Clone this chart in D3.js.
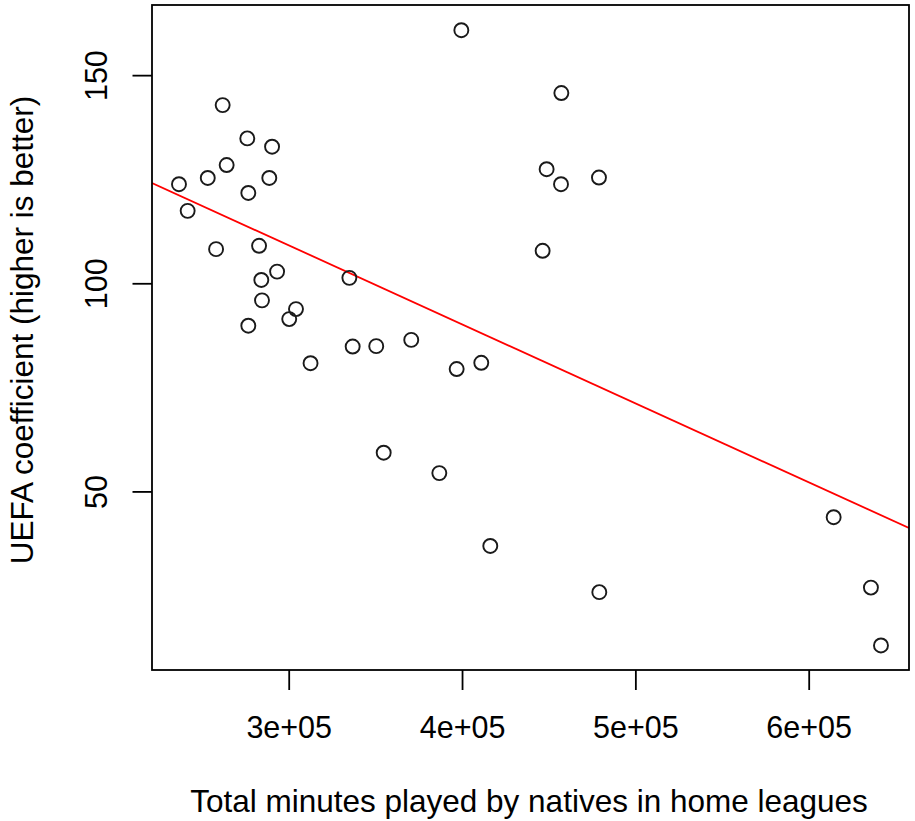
<!DOCTYPE html>
<html>
<head>
<meta charset="utf-8">
<script src="https://cdn.jsdelivr.net/npm/d3@7"></script>
<style>
  html, body { margin: 0; padding: 0; background: #fff; }
  svg { display: block; }
  text { font-family: "Liberation Sans", Arial, Helvetica, sans-serif; fill: #000; }
</style>
</head>
<body>
<svg id="chart" width="915" height="821"></svg>
<script>
// ---- data ----
const minutesPlayed = [236700, 241700, 253300, 258100, 261900, 264200, 276100, 276700, 276700, 282900,
  284200, 284600, 288800, 290400, 293300, 300300, 304200, 312600, 335000, 336900,
  350500, 354800, 370700, 386900, 396900, 399600, 411100, 416300, 446500, 448800,
  457300, 457100, 479000, 479200, 614400, 635900, 641700];
const uefaCoefficient = [123.8, 117.4, 125.3, 108.2, 142.8, 128.4, 134.8, 121.7, 89.8, 109.0,
  100.8, 95.9, 125.3, 132.8, 102.8, 91.4, 93.8, 80.8, 101.3, 84.8,
  84.9, 59.3, 86.4, 54.4, 79.4, 160.8, 80.9, 36.9, 107.8, 127.4,
  145.7, 123.8, 125.4, 25.8, 43.8, 26.9, 13.0];
const xTickValues = [300000, 400000, 500000, 600000];
const xTickLabels = ["3e+05", "4e+05", "5e+05", "6e+05"];
const yTickValues = [50, 100, 150];
const yTickLabels = ["50", "100", "150"];
const xDomain = [221130, 657870];
const yDomain = [7.1, 166.85];
const fitCoefficients = [166.05, -1.8975e-4]; // intercept, slope of fitted line
const xTitle = "Total minutes played by natives in home leagues";
const yTitle = "UEFA coefficient (higher is better)";

// ---- layout ----
const plot = { left: 152, right: 909, top: 5, bottom: 670 };
const fontSize = 30.5;
const titleSize = 31.5;

const svg = d3.select("#chart");
const x = d3.scaleLinear().domain(xDomain).range([plot.left, plot.right]);
const y = d3.scaleLinear().domain(yDomain).range([plot.bottom, plot.top]);

// fitted regression line (clipped to the plot box)
svg.append("clipPath").attr("id", "clip")
  .append("rect").attr("x", plot.left).attr("y", plot.top)
  .attr("width", plot.right - plot.left).attr("height", plot.bottom - plot.top);

const fitLine = xDomain.map(v => [v, fitCoefficients[0] + fitCoefficients[1] * v]);
svg.append("path")
  .datum(fitLine)
  .attr("clip-path", "url(#clip)")
  .attr("fill", "none")
  .attr("stroke", "#ff0000")
  .attr("stroke-width", 1.8)
  .attr("d", d3.line().x(d => x(d[0])).y(d => y(d[1])));

// points
svg.append("g").selectAll("circle")
  .data(minutesPlayed.map((m, i) => ({ m, u: uefaCoefficient[i] })))
  .join("circle")
  .attr("cx", d => x(d.m))
  .attr("cy", d => y(d.u))
  .attr("r", 7)
  .attr("fill", "none")
  .attr("stroke", "#1a1a1a")
  .attr("stroke-width", 1.9);

// box
svg.append("rect")
  .attr("x", plot.left).attr("y", plot.top)
  .attr("width", plot.right - plot.left).attr("height", plot.bottom - plot.top)
  .attr("fill", "none").attr("stroke", "#000").attr("stroke-width", 1.8);

// x axis
const xAxis = svg.append("g")
  .attr("transform", `translate(0,${plot.bottom})`)
  .call(d3.axisBottom(x).tickValues(xTickValues)
    .tickFormat((d, i) => xTickLabels[i]).tickSize(20).tickPadding(0));
xAxis.select(".domain").remove();
xAxis.selectAll(".tick line").attr("stroke", "#000").attr("stroke-width", 1.8);
xAxis.selectAll(".tick text")
  .attr("font-size", fontSize)
  .attr("font-family", "Liberation Sans, Arial, sans-serif")
  .attr("dy", null)
  .attr("y", 68);

// y axis
const yAxis = svg.append("g")
  .attr("transform", `translate(${plot.left},0)`)
  .call(d3.axisLeft(y).tickValues(yTickValues)
    .tickFormat((d, i) => yTickLabels[i]).tickSize(19.5).tickPadding(0));
yAxis.select(".domain").remove();
yAxis.selectAll(".tick line").attr("stroke", "#000").attr("stroke-width", 1.8);
yAxis.selectAll(".tick text")
  .attr("font-size", fontSize)
  .attr("font-family", "Liberation Sans, Arial, sans-serif")
  .attr("x", null).attr("dy", null)
  .attr("text-anchor", "middle")
  .attr("transform", "translate(-45,0) rotate(-90)");

// axis titles
svg.append("text")
  .attr("x", 529)
  .attr("y", 812)
  .attr("text-anchor", "middle")
  .attr("font-size", titleSize)
  .text(xTitle);

svg.append("text")
  .attr("transform", `translate(33,330) rotate(-90)`)
  .attr("text-anchor", "middle")
  .attr("font-size", titleSize)
  .text(yTitle);
</script>
</body>
</html>
